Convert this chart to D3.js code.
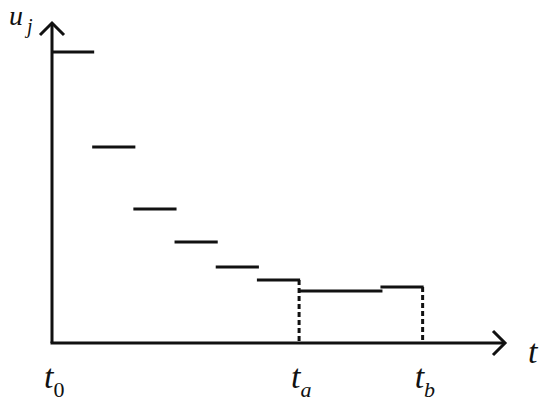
<!DOCTYPE html>
<html>
<head>
<meta charset="utf-8">
<script src="https://cdn.jsdelivr.net/npm/d3@7"></script>
<style>
  body { margin: 0; background: #fff; }
  svg { display: block; }
</style>
</head>
<body>
<div id="chart"></div>
<script>
// Step intervals (time units) and control values u_j
const stepStarts = [0, 1, 2, 3, 4, 5, 6, 8];
const stepEnds   = [1, 2, 3, 4, 5, 6, 8, 9];
const stepValues = [2.91, 1.96, 1.34, 1.01, 0.76, 0.63, 0.52, 0.56];
// Marked time points
const markTimes  = [0, 6, 9];
const markNames  = ["0", "a", "b"];
// Dashed drop lines at t_a and t_b
const dropTimes  = [6, 9];
const dropValues = [0.63, 0.56];

const W = 550, H = 405;
const FONT = "'Liberation Serif', 'DejaVu Serif', serif";
const svg = d3.select("#chart").append("svg").attr("width", W).attr("height", H)
  .attr("font-family", FONT);

const x = d3.scaleLinear().domain([0, 11]).range([52, 505]);
const y = d3.scaleLinear().domain([0, 3.2]).range([343, 23]);

const ink = "#111";
const lw = 3;

// axes
svg.append("line").attr("x1", x(0)).attr("y1", y(0)).attr("x2", x(0)).attr("y2", y(3.2))
  .attr("stroke", ink).attr("stroke-width", lw);
svg.append("line").attr("x1", x(0) - 1.5).attr("y1", y(0)).attr("x2", x(11)).attr("y2", y(0))
  .attr("stroke", ink).attr("stroke-width", lw);

// arrowheads (open chevrons)
svg.append("path")
  .attr("d", `M${x(0) - 12},${y(3.2) + 12} L${x(0)},${y(3.2)} L${x(0) + 12},${y(3.2) + 12}`)
  .attr("fill", "none").attr("stroke", ink).attr("stroke-width", lw);
svg.append("path")
  .attr("d", `M${x(11) - 12},${y(0) - 12} L${x(11)},${y(0)} L${x(11) - 12},${y(0) + 12}`)
  .attr("fill", "none").attr("stroke", ink).attr("stroke-width", lw);

// step segments
svg.append("g").selectAll("line").data(stepValues).join("line")
  .attr("x1", (d, i) => x(stepStarts[i]) + (i === 0 ? 0 : -1))
  .attr("x2", (d, i) => x(stepEnds[i]) + 1)
  .attr("y1", d => y(d)).attr("y2", d => y(d))
  .attr("stroke", ink).attr("stroke-width", lw);

// dashed drop lines
svg.append("g").selectAll("line").data(dropTimes).join("line")
  .attr("x1", d => x(d)).attr("x2", d => x(d))
  .attr("y1", (d, i) => y(dropValues[i])).attr("y2", y(0))
  .attr("stroke", ink).attr("stroke-width", 3).attr("stroke-dasharray", "5,3");

// time labels
const lab = svg.append("g").selectAll("text").data(markTimes).join("text")
  .attr("x", d => x(d) - 8).attr("y", 388)
  .attr("font-size", 34).attr("font-style", "italic").attr("fill", ink);
lab.append("tspan").text("t");
lab.append("tspan").attr("dy", 9).attr("font-size", 22)
  .attr("font-style", (d, i) => markNames[i] === "0" ? "normal" : "italic")
  .text((d, i) => markNames[i]);

// axis names
svg.append("text").attr("x", 528).attr("y", 363).attr("font-size", 34)
  .attr("font-style", "italic").attr("fill", ink).text("t");
const ul = svg.append("text").attr("x", 9).attr("y", 25).attr("font-size", 28)
  .attr("font-style", "italic").attr("fill", ink);
ul.append("tspan").text("u");
ul.append("tspan").attr("dx", 4).attr("dy", 8).attr("font-size", 20).text("j");
</script>
</body>
</html>
